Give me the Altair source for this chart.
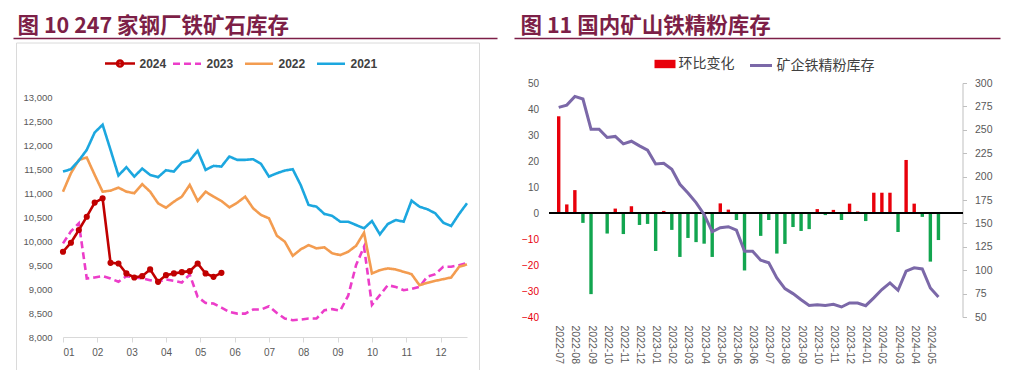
import json
import altair as alt
import pandas as pd

# ---------------- data: left chart (247 steel mills iron ore inventory, weekly) ----------------
years = ["2024", "2023", "2022", "2021"]
inv_2024 = [9776, 9964, 10229, 10506, 10800, 10890, 9545, 9532, 9324, 9240, 9268, 9408,
            9150, 9289, 9324, 9351, 9372, 9532, 9324, 9254, 9337]
inv_2023 = [9950, 10200, 10370, 9220, 9240, 9268, 9220, 9150, 9268, 9240, 9220, 9184,
            9150, 9198, 9170, 9136, 9300, 8836, 8710, 8697, 8614, 8522, 8488, 8488,
            8572, 8572, 8641, 8501, 8384, 8349, 8363, 8384, 8384, 8558, 8580, 8550,
            8860, 9500, 9880, 8670, 8871, 9080, 9044, 8975, 9000, 9044, 9260, 9310,
            9462, 9465, 9495, 9540]
inv_2022 = [11028, 11412, 11690, 11739, 11377, 11028, 11049, 11112, 11028, 10995, 11183, 11028,
            10786, 10694, 10820, 10924, 11168, 10834, 11028, 10924, 10834, 10702, 10799, 10924,
            10681, 10542, 10473, 10110, 9986, 9692, 9825, 9915, 9846, 9867, 9742, 9707,
            9776, 9901, 10173, 9324, 9393, 9429, 9408, 9358, 9310, 9080, 9128, 9170,
            9205, 9240, 9462, 9512]
inv_2021 = [11446, 11496, 11676, 11899, 12261, 12422, 11899, 11363, 11538, 11342, 11509, 11377,
            11329, 11475, 11446, 11634, 11676, 11878, 11482, 11565, 11551, 11760, 11690, 11690,
            11704, 11607, 11342, 11412, 11468, 11496, 11168, 10751, 10715, 10563, 10521, 10402,
            10402, 10333, 10264, 10417, 10139, 10354, 10437, 10402, 10840, 10715, 10661, 10577,
            10382, 10312, 10563, 10785]
month_ticks = list(range(1, 13))
left_y_ticks = list(range(8000, 13001, 500))

# ---------------- data: right chart (domestic iron concentrate inventory, bi-weekly) ----------------
change_vals = [37.2, 3.3, 8.8, -3.8, -31.2, 0, -7.9, 1.7, -8.1, 2.6, -4.6, -4.2,
               -14.6, 0.8, -6.5, -16.9, -9.6, -11.2, -11.8, -16.9, 3.7, 1.3, -2.7, -22.1,
               0, -8.8, -2.7, -15.6, -11.9, -5.4, -6.9, -6.2, 1.5, -0.8, 1.2, -2.7,
               3.6, 0.6, -3.1, 7.8, 7.8, 7.8, -7.3, 20.4, 3.6, -1.5, -18.7, -10.4]
stock_vals = [274.0, 276.4, 285.7, 282.9, 250.7, 250.7, 241.8, 242.9, 235.0, 237.8, 232.8, 228.2,
              213.5, 214.3, 207.8, 191.8, 182.5, 172.2, 159.6, 141.1, 145.4, 146.5, 142.8, 120.3,
              120.3, 110.7, 107.9, 91.8, 80.3, 75.0, 68.5, 62.4, 63.2, 62.4, 63.5, 60.7,
              65.0, 65.0, 62.1, 70.4, 79.3, 86.4, 78.5, 98.9, 102.5, 101.4, 81.0, 71.4]
date_labels = ["2022-07", "2022-08", "2022-09", "2022-10", "2022-11", "2022-12",
               "2023-01", "2023-02", "2023-03", "2023-04", "2023-05", "2023-06",
               "2023-06", "2023-07", "2023-08", "2023-09", "2023-10", "2023-11",
               "2023-12", "2024-01", "2024-02", "2024-03", "2024-04", "2024-05"]
left_ticks_r = list(range(-40, 51, 10))
right_ticks_r = list(range(50, 301, 25))

title_left = "图 10 247 家钢厂铁矿石库存"
title_right = "图 11 国内矿山铁精粉库存"
bar_name = "环比变化"
line_name = "矿企铁精粉库存"

# ---------------- styles ----------------
MAROON = "#7D1F47"
C24, C23, C22, C21 = "#C00000", "#EC3DC9", "#F39C50", "#1CA7DF"
RED, GREEN, PURPLE = "#E8000B", "#12A54F", "#7B68A8"
GRAY_TXT = "#595959"
NUM_FONT = "Liberation Sans"
CJK = "Noto Sans CJK SC"
LEFT_X0 = 62.5  # page x of left plot origin (legend offsets are relative to it)
TITLE_FS = 21.5

# ---------------- left panel ----------------
rows = []
for name, vals in zip(years, [inv_2024, inv_2023, inv_2022, inv_2021]):
    for i, v in enumerate(vals):
        rows.append({"series": name, "month": 1 + i * 12 / 52, "value": v})
df_left = pd.DataFrame(rows)

LW, LH = 404, 254
x_left = alt.X("month:Q", title=None,
               scale=alt.Scale(domain=[1, 1 + 51 * 12 / 52], nice=False, zero=False),
               axis=alt.Axis(values=month_ticks, format="02d", grid=False,
                             domainColor="#D9D9D9", tickColor="#D9D9D9", tickSize=5,
                             labelColor=GRAY_TXT, labelFont=NUM_FONT, labelFontSize=10,
                             labelPadding=5, labelOverlap=False))
y_left = alt.Y("value:Q", title=None,
               scale=alt.Scale(domain=[8000, 8000 + 5000 * 254 / 240], nice=False, zero=False),
               axis=alt.Axis(values=left_y_ticks, format=",.0f", grid=False, domain=False,
                             ticks=False, labelColor=GRAY_TXT, labelFont=NUM_FONT,
                             labelFontSize=9.5, labelPadding=11, labelOverlap=False))

leg_common = dict(title=None, orient="none", direction="horizontal", padding=0,
                  labelFont=NUM_FONT, labelFontSize=12, labelFontWeight="bold",
                  labelColor="#404040")
leg_b = alt.Legend(legendX=108.5, legendY=-35, symbolType="stroke", symbolSize=784,
                   symbolStrokeWidth=2.6, labelOffset=4, columnPadding=6, **leg_common)

base_left = alt.Chart(df_left)
others = base_left.transform_filter("datum.series != '2024'").mark_line(strokeWidth=2.6).encode(
    x=x_left, y=y_left,
    color=alt.Color("series:N", sort=["2023", "2022", "2021"],
                    scale=alt.Scale(domain=["2023", "2022", "2021"], range=[C23, C22, C21]),
                    legend=leg_b),
    strokeDash=alt.StrokeDash("series:N", sort=["2023", "2022", "2021"],
                              scale=alt.Scale(domain=["2023", "2022", "2021"],
                                              range=[[7, 4], [1, 0], [1, 0]]),
                              legend=leg_b),
)
cur_line = base_left.transform_filter("datum.series == '2024'").mark_line(strokeWidth=2.6).encode(
    x=x_left, y=y_left,
    color=alt.Color("series:N",
                    scale=alt.Scale(domain=["2024"], range=[C24]),
                    legend=alt.Legend(legendX=40.5, legendY=-36,
                                      symbolType="M-1,0L1,0M0.2,0A0.2,0.2,0,1,1,-0.2,0A0.2,0.2,0,1,1,0.2,0",
                                      symbolSize=900, symbolStrokeWidth=2.6, labelOffset=3,
                                      **leg_common)),
)
cur_pts = base_left.transform_filter("datum.series == '2024'").mark_circle(
    size=38, opacity=1, color=C24).encode(x=x_left, y=y_left)

one = alt.Data(values=[{"k": 0}])
frame_l = alt.Chart(one).mark_rect(fillOpacity=0, stroke="#DADADA", strokeWidth=1).encode(
    x=alt.value(-46.5), x2=alt.value(416.5), y=alt.value(-40), y2=alt.value(300))
title_l = alt.Chart(one).mark_text(align="left", baseline="alphabetic", font=CJK,
                                   fontSize=TITLE_FS, fontWeight="bold", color=MAROON).encode(
    x=alt.value(-45.5), y=alt.value(-50), text=alt.value(title_left))
uline_l = alt.Chart(one).mark_rule(color=MAROON, strokeWidth=1.5).encode(
    x=alt.value(-49.5), x2=alt.value(434.5), y=alt.value(-44.5))
anchor = alt.Chart(one).mark_rule(strokeWidth=0, strokeOpacity=0).encode(
    x=alt.value(-54.5), y=alt.value(-75), y2=alt.value(-74))

left = alt.layer(frame_l, others, cur_line, cur_pts, title_l, uline_l, anchor).resolve_scale(
    color="independent", strokeDash="independent").properties(width=LW, height=LH)

# ---------------- right panel ----------------
df_right = pd.DataFrame({
    "idx": list(range(len(change_vals))),
    "change": change_vals,
    "stock": stock_vals,
})
df_right["cat"] = [bar_name if v >= 0 else "neg" for v in change_vals]
df_right["lname"] = line_name

RW, RH = 413, 234
label_expr = json.dumps(date_labels) + "[datum.value / 2]"
x_axis_r = alt.Axis(values=list(range(0, 48, 2)), labelExpr=label_expr, labelAngle=90,
                    domain=False, ticks=False, grid=False, labelColor=GRAY_TXT,
                    labelFont=NUM_FONT, labelFontSize=10.5, labelPadding=8, labelOverlap=False)
x_right = alt.X("idx:Q", title=None, axis=x_axis_r,
                scale=alt.Scale(domain=[-0.52, 49.36], nice=False, zero=False))

y_axis_bar = alt.Axis(values=left_ticks_r, grid=False, domain=False, ticks=False,
                      labelFont=NUM_FONT, labelFontSize=10, labelPadding=11,
                      labelOverlap=False, tickCount=10,
                      labelColor={"condition": {"test": "datum.value < 0", "value": "#E8000B"},
                                  "value": GRAY_TXT})
y_scale_bar = alt.Scale(domain=[-40, 50], nice=False)

base_r = alt.Chart(df_right)
bars = base_r.mark_bar(size=3.4).encode(
    x=x_right,
    y=alt.Y("change:Q", title=None, scale=y_scale_bar, axis=y_axis_bar),
    color=alt.Color("cat:N", scale=alt.Scale(domain=[bar_name, "neg"], range=[RED, GREEN]),
                    legend=alt.Legend(title=None, values=[bar_name], orient="none",
                                      legendX=654 - LEFT_X0, legendY=-29.5, padding=0,
                                      symbolType="M-1,-0.4H1V0.4H-1Z", symbolSize=441,
                                      symbolStrokeWidth=0, labelFont=CJK, labelFontSize=14,
                                      labelColor="#404040", labelOffset=3)),
)
zero = base_r.mark_rule(color="black", strokeWidth=2).encode(
    y=alt.Y(datum=0, type="quantitative", title=None, scale=y_scale_bar, axis=y_axis_bar))
bar_layer = alt.layer(bars, zero)

line_r = base_r.mark_line(strokeWidth=3).encode(
    x=x_right,
    y=alt.Y("stock:Q", title=None,
            scale=alt.Scale(domain=[50, 300], nice=False, zero=False),
            axis=alt.Axis(orient="right", values=right_ticks_r, grid=False,
                          domainColor="#BFBFBF", tickColor="#BFBFBF", tickSize=4,
                          labelColor=GRAY_TXT, labelFont=NUM_FONT, labelFontSize=10.5,
                          labelPadding=8, labelOverlap=False)),
    stroke=alt.Stroke("lname:N", scale=alt.Scale(domain=[line_name], range=[PURPLE]),
                      legend=alt.Legend(title=None, orient="none", legendX=748 - LEFT_X0,
                                        legendY=-30, padding=0, symbolType="stroke",
                                        symbolSize=484, symbolStrokeWidth=3, labelFont=CJK,
                                        labelFontSize=14, labelColor="#404040", labelOffset=3)),
)

title_r = alt.Chart(one).mark_text(align="left", baseline="alphabetic", font=CJK,
                                   fontSize=TITLE_FS, fontWeight="bold", color=MAROON).encode(
    x=alt.value(-29), y=alt.value(-50), text=alt.value(title_right))
uline_r = alt.Chart(one).mark_rule(color=MAROON, strokeWidth=1.5).encode(
    x=alt.value(-35), x2=alt.value(451), y=alt.value(-44.5))

right = alt.layer(bar_layer, line_r, title_r, uline_r).resolve_scale(
    y="independent").properties(width=RW, height=RH)

chart = alt.hconcat(left, right, spacing=82.5, bounds="flush").properties(
    padding=0).configure_view(stroke=None)

chart.save("out.html", embed_options={"renderer": "svg", "actions": False})
